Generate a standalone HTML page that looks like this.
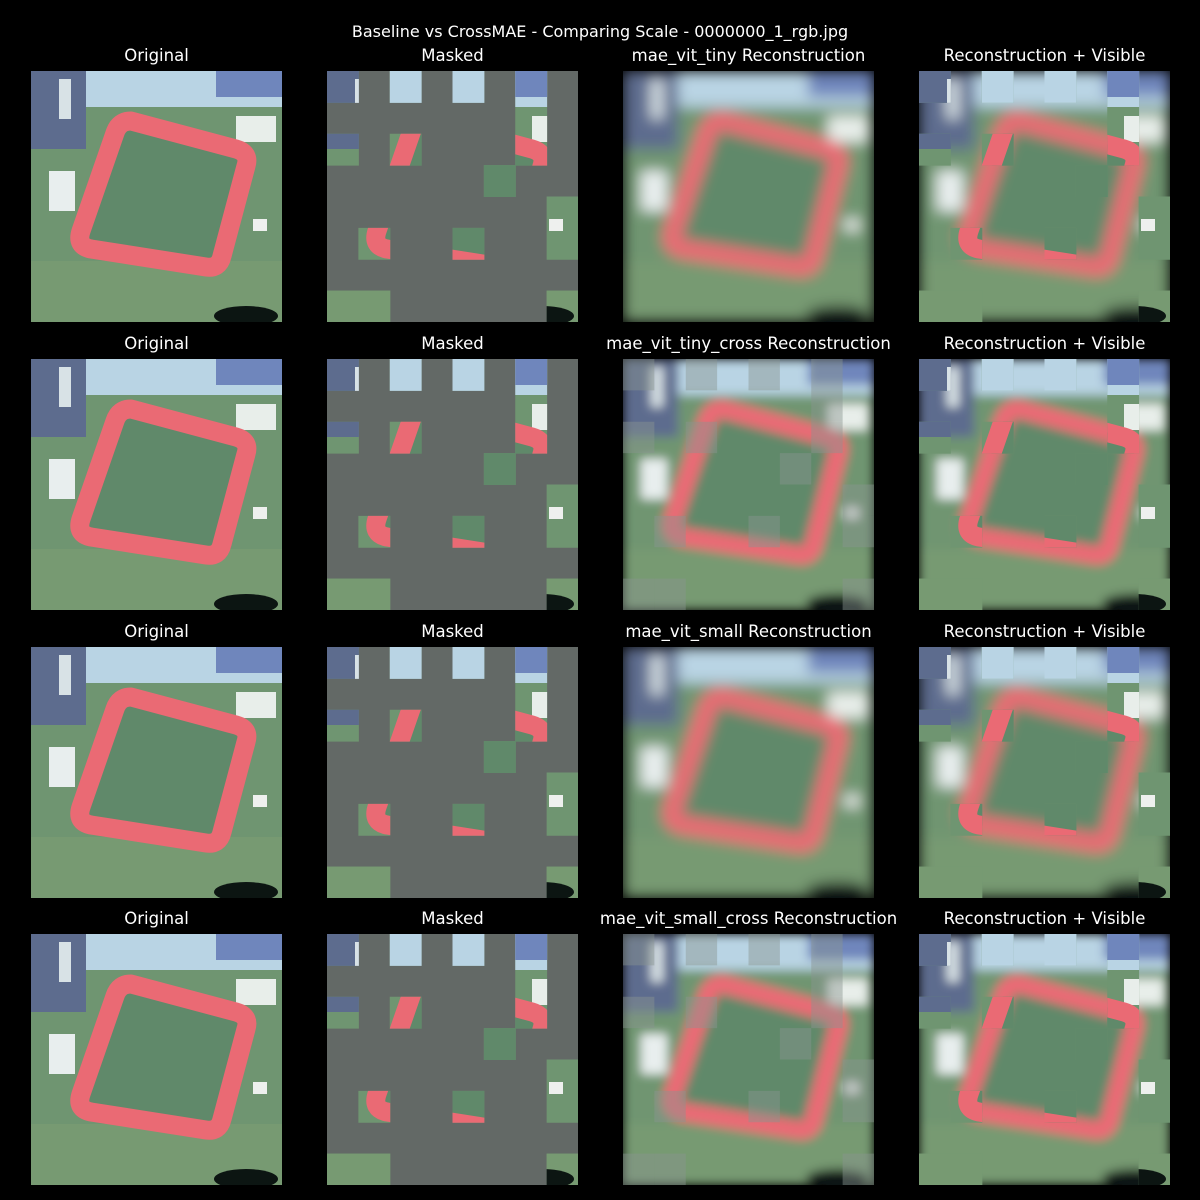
<!DOCTYPE html>
<html><head><meta charset="utf-8">
<style>
html,body{margin:0;padding:0;background:#000;}
#root{position:relative;width:1200px;height:1200px;background:#000;overflow:hidden;font-family:"DejaVu Sans","Liberation Sans",sans-serif;color:#fff;}
.t{position:absolute;white-space:nowrap;transform:translateX(-50%);font-size:16.5px;color:#fff;}
.p{position:absolute;width:251px;height:251px;}
</style></head>
<body>
<div id="root">
<div class="t" style="left:600px;top:22px;font-size:16px">Baseline vs CrossMAE - Comparing Scale - 0000000_1_rgb.jpg</div>
</div>
<script>
const rowModels=["mae_vit_tiny","mae_vit_tiny_cross","mae_vit_small","mae_vit_small_cross"];
const colTitles=["Original","Masked","{m} Reconstruction","Reconstruction + Visible"];
const visiblePatches=[[0,0],[0,2],[0,4],[0,6],[1,6],[2,0],[2,2],[2,6],[3,5],[4,7],[5,1],[5,4],[5,7],[7,0],[7,1],[7,7]];
const colX=[31,327,623,919];
const rowY=[71,359,647,934];
const NS="http://www.w3.org/2000/svg";
const root=document.getElementById('root');
const P=251, cell=P/8;

function scene(){
  return `
  <rect x="0" y="0" width="251" height="251" fill="#6f9571"/>
  <rect x="0" y="190" width="251" height="61" fill="#779a72"/>
  <rect x="55" y="0" width="196" height="36" fill="#b9d4e4"/>
  <rect x="0" y="0" width="55" height="78" fill="#5d6c8e"/>
  <rect x="185" y="0" width="66" height="26" fill="#6f86bc"/>
  <rect x="28" y="8" width="12" height="40" fill="#d8e2e6"/>
  <rect x="18" y="100" width="26" height="40" fill="#e8eeee"/>
  <rect x="205" y="45" width="40" height="26" fill="#e8eeea"/>
  <rect x="222" y="148" width="14" height="12" fill="#eef0ee"/>
  <path d="M100,50 Q88,50 84,62 L50,160 Q45,175 60,178 L175,196 Q188,198 191,185 L215,95 Q219,82 205,78 Z" fill="#60896a" stroke="#ea6a74" stroke-width="19" stroke-linejoin="round"/>
  <ellipse cx="215" cy="245" rx="32" ry="10" fill="#0c1512"/>`;
}

rowModels.forEach((model,ri)=>{
  colTitles.forEach((tt,ci)=>{
    const title=document.createElement('div');
    title.className='t';
    title.style.left=(colX[ci]+125.5)+'px';
    title.style.top=(rowY[ri]-25)+'px';
    title.textContent=tt.replace('{m}',model);
    
    
    root.appendChild(title);

    const svg=document.createElementNS(NS,'svg');
    svg.setAttribute('class','p');
    svg.setAttribute('width',P);svg.setAttribute('height',P);
    svg.setAttribute('viewBox','0 0 251 251');
    svg.style.left=colX[ci]+'px';svg.style.top=rowY[ri]+'px';
    
    
    const id='r'+ri+'c'+ci;
    const clipRects=visiblePatches.map(([r,c])=>`<rect x="${c*cell}" y="${r*cell}" width="${cell+0.5}" height="${cell+0.5}"/>`).join('');
    const blur=ri%2===0?7:5;
    let html=`<defs><clipPath id="cp${id}">${clipRects}</clipPath>
      <clipPath id="bx${id}"><rect width="251" height="251"/></clipPath>
      <filter id="f${id}" x="-10%" y="-10%" width="120%" height="120%"><feGaussianBlur stdDeviation="${blur}" edgeMode="duplicate"/></filter></defs>`;
    if(ci===0){
      html+=`<g>${scene()}</g>`;
    }else if(ci===1){
      html+=`<rect width="251" height="251" fill="#636966"/><g clip-path="url(#cp${id})">${scene()}</g>`;
    }else{
      html+=`<g clip-path="url(#bx${id})"><g filter="url(#f${id})">${scene()}</g></g>`;
      if(ri%2===1&&ci===2){
        html+=visiblePatches.map(([r,c])=>`<rect x="${c*cell}" y="${r*cell}" width="${cell}" height="${cell}" fill="#8a9590" opacity="0.45"/>`).join('');
      }
      if(ci===3){
        html+=`<g clip-path="url(#cp${id})">${scene()}</g>`;
      }
    }
    svg.innerHTML=html;
    root.appendChild(svg);
  });
});
</script>
</body></html>
